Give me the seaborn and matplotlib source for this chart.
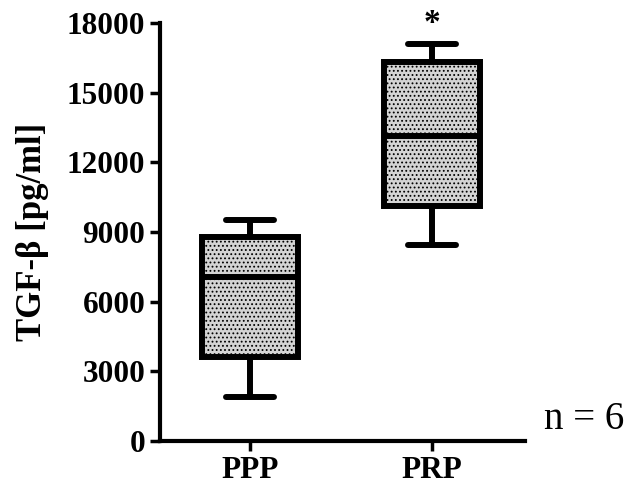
import matplotlib
matplotlib.use("Agg")
import matplotlib.pyplot as plt
import seaborn as sns
import pandas as pd

# Five-number summaries: min, Q1, median, Q3, max
groups = ["PPP", "PRP"]
ppp_summary = [1900, 3600, 7050, 8800, 9500]
prp_summary = [8450, 10100, 13150, 16300, 17100]
y_ticks = [0, 3000, 6000, 9000, 12000, 15000, 18000]

df = pd.DataFrame({
    "group": ["PPP"] * len(ppp_summary) + ["PRP"] * len(prp_summary),
    "value": ppp_summary + prp_summary,
})

sns.set_theme(style="ticks")
plt.rcParams['font.family'] = ['Liberation Serif', 'DejaVu Serif']
plt.rcParams['hatch.linewidth'] = 0.8
plt.rcParams['text.color'] = 'black'
plt.rcParams['axes.labelcolor'] = 'black'

fig = plt.figure(figsize=(6.27, 4.93), dpi=100)
ax = fig.add_axes([0.255, 0.1055, 0.582, 0.848])

sns.boxplot(data=df, x="group", y="value", order=groups, whis=(0, 100),
            width=0.53, color="#d4d4d4", linecolor="black", linewidth=4.3,
            showfliers=False, ax=ax)
for p in ax.patches:
    p.set_hatch("....")

ax.set_xlim(-0.495, 1.51)
ax.set_ylim(0, 18000)
ax.set_yticks(y_ticks)
ax.set_yticklabels([str(t) for t in y_ticks])
ax.set_xlabel("")
ax.set_ylabel("TGF-β [pg/ml]", fontsize=25, fontweight="bold", labelpad=13,
              color="black")
ax.tick_params(axis="both", width=2.5, length=7, labelsize=22.5,
               colors="black", labelcolor="black")
for lab in ax.get_xticklabels() + ax.get_yticklabels():
    lab.set_fontweight("bold")
sns.despine(ax=ax)
for s in ["left", "bottom"]:
    ax.spines[s].set_linewidth(3)
    ax.spines[s].set_color("black")

ax.text(1, 17300, "*", ha="center", va="bottom", fontsize=24,
        fontweight="bold", color="black")
fig.text(0.932, 0.15, "n = 6", ha="center", va="center", fontsize=28,
         color="black")

fig.savefig("out.png", dpi=100)
